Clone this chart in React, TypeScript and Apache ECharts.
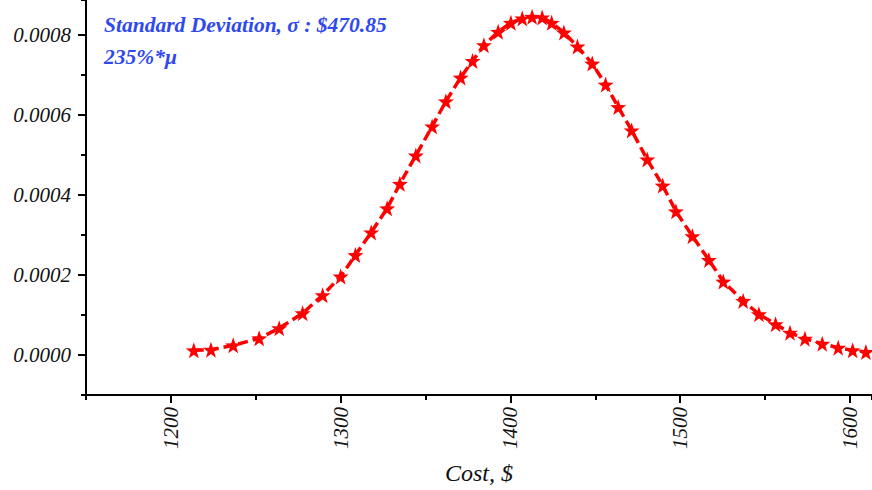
import React, { useEffect, useRef } from "react";
import * as echarts from "echarts";

const costValues: number[] = [
  1213.5, 1223.6, 1236.7, 1252.0, 1263.8, 1277.6, 1289.4, 1300.0, 1308.7, 1318.0,
  1327.4, 1334.9, 1344.3, 1353.9, 1362.0, 1370.7, 1377.7, 1384.4, 1392.8, 1400.3,
  1407.0, 1412.8, 1418.7, 1424.3, 1431.5, 1439.5, 1448.2, 1456.1, 1463.5, 1471.4,
  1480.6, 1489.7, 1497.5, 1507.2, 1516.9, 1525.4, 1537.1, 1546.4, 1556.2, 1564.7,
  1573.5, 1583.7, 1593.1, 1601.6, 1609.4,
];

const densityValues: number[] = [
  0.0000118, 0.0000133, 0.0000243, 0.0000419, 0.000067, 0.0001046, 0.0001497, 0.0001964, 0.00025, 0.0003067,
  0.0003669, 0.0004281, 0.0004991, 0.0005718, 0.0006345, 0.000694, 0.0007356, 0.000775, 0.0008083, 0.0008309,
  0.0008419, 0.000846, 0.0008444, 0.0008309, 0.0008068, 0.0007717, 0.0007291, 0.0006764, 0.0006202, 0.0005618,
  0.0004891, 0.0004239, 0.0003594, 0.0002972, 0.0002378, 0.0001838, 0.0001354, 0.0001021, 0.000077, 0.0000559,
  0.0000409, 0.0000283, 0.0000183, 0.0000118, 0.0000075,
];

const yMajorTicks: number[] = [0, 0.0002, 0.0004, 0.0006, 0.0008];
const xMajorTicks: number[] = [1200, 1300, 1400, 1500, 1600];

const annotationLine1 = "Standard Deviation, \u03C3 : $470.85";
const annotationLine2 = "235%*\u03BC";

const STAR =
  "path://M0,-10L2.35,-3.24L9.51,-3.09L3.8,1.24L5.88,8.09L0,4L-5.88,8.09L-3.8,1.24L-9.51,-3.09L-2.35,-3.24Z";

const FONT = "'Liberation Serif', 'Times New Roman', serif";

export default function App() {
  const ref = useRef<HTMLDivElement>(null);

  useEffect(() => {
    if (!ref.current) return;
    const chart = echarts.init(ref.current, undefined, { renderer: "svg" });

    const yMin = -0.0001;
    const yMax = 0.000888;
    const xMin = 1150;
    const xMax = 1613;

    const option: any = {
      animation: false,
      backgroundColor: "#ffffff",
      grid: { left: 86, right: 0, top: 0, bottom: 95, containLabel: false },
      xAxis: [
        {
          type: "value",
          min: xMin,
          max: xMax,
          interval: 50,
          position: "bottom",
          name: "Cost, $",
          nameLocation: "middle",
          nameGap: 66,
          nameTextStyle: { fontFamily: FONT, fontStyle: "italic", fontSize: 24, color: "#111" },
          axisLine: { show: true, onZero: false, lineStyle: { color: "#000", width: 2 } },
          axisTick: { show: true, inside: false, length: 5, lineStyle: { color: "#000", width: 2 } },
          axisLabel: {
            customValues: xMajorTicks,
            rotate: 90,
            margin: 12,
            fontFamily: FONT,
            fontStyle: "italic",
            fontSize: 21,
            color: "#111",
            formatter: (v: number) => String(Math.round(v)),
          },
          splitLine: { show: false },
        },
        {
          type: "value",
          min: xMin,
          max: xMax,
          interval: 50,
          position: "bottom",
          axisLine: { show: false, onZero: false },
          axisTick: { show: true, customValues: xMajorTicks, length: 8, lineStyle: { color: "#000", width: 2 } },
          axisLabel: { show: false },
          splitLine: { show: false },
        },
      ],
      yAxis: [
        {
          type: "value",
          min: yMin,
          max: yMax,
          interval: 0.0001,
          position: "left",
          axisLine: { show: true, onZero: false, lineStyle: { color: "#000", width: 2 } },
          axisTick: { show: true, inside: false, length: 5, lineStyle: { color: "#000", width: 2 } },
          axisLabel: {
            customValues: yMajorTicks,
            margin: 15,
            fontFamily: FONT,
            fontStyle: "italic",
            fontSize: 21,
            color: "#111",
            formatter: (v: number) => v.toFixed(4),
          },
          splitLine: { show: false },
        },
        {
          type: "value",
          min: yMin,
          max: yMax,
          interval: 0.0001,
          position: "left",
          axisLine: { show: false, onZero: false },
          axisTick: { show: true, customValues: yMajorTicks, length: 8, lineStyle: { color: "#000", width: 2 } },
          axisLabel: { show: false },
          splitLine: { show: false },
        },
      ],
      series: [
        {
          type: "line",
          xAxisIndex: 0,
          yAxisIndex: 0,
          data: costValues.map((c, i) => [c, densityValues[i]]),
          smooth: false,
          symbol: STAR,
          symbolSize: 16,
          showSymbol: true,
          lineStyle: { color: "#ff0000", width: 3.5, type: [10, 5] },
          itemStyle: { color: "#ff0000" },
          clip: false,
        },
      ],
      graphic: [
        {
          type: "text",
          left: 104,
          top: 14,
          style: {
            text: annotationLine1,
            fill: "#2f49ef",
            font: `italic bold 21.5px ${FONT}`,
          },
        },
        {
          type: "text",
          left: 104,
          top: 46,
          style: {
            text: annotationLine2,
            fill: "#2f49ef",
            font: `italic bold 21.5px ${FONT}`,
          },
        },
      ],
    };

    chart.setOption(option);
    return () => chart.dispose();
  }, []);

  return (
    <div
      ref={ref}
      style={{ position: "fixed", left: 0, top: 0, width: 872, height: 490, background: "#fff" }}
    />
  );
}
